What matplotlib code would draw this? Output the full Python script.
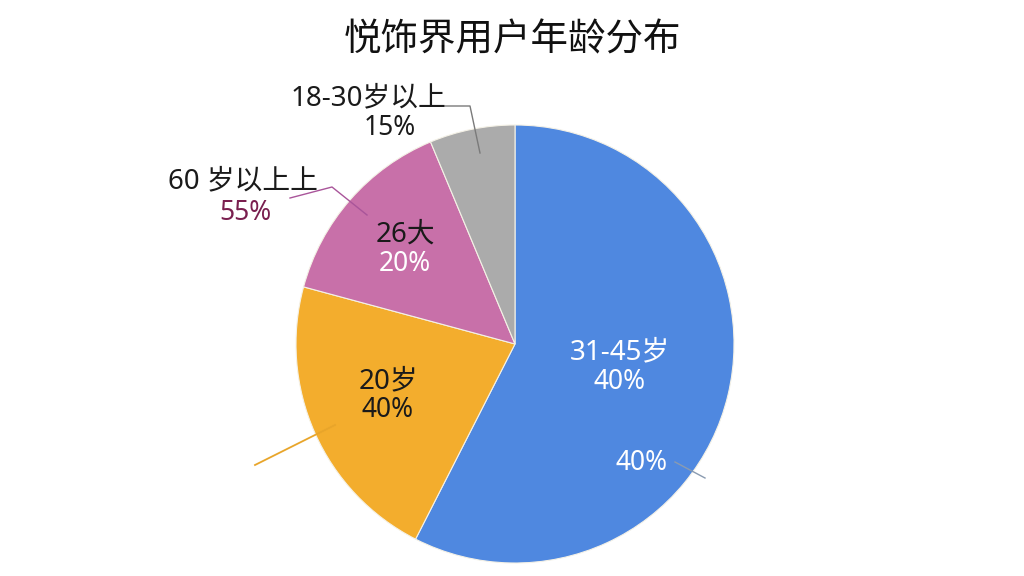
import matplotlib
matplotlib.use("Agg")
import matplotlib.pyplot as plt

plt.rcParams['font.family'] = ['Noto Sans', 'Noto Sans CJK SC', 'DejaVu Sans']

# Data (slice shares, clockwise from top)
categories = ["31-45岁", "20岁", "26岁", "18-30岁以上"]
shares = [57.5, 21.7, 14.5, 6.3]
colors = ["#4F88E0", "#F3AD2D", "#C870A9", "#ABABAB"]
title = "悦饰界用户年龄分布"

W, H = 1024, 576
CX, CY, R = 515, 344, 219

fig = plt.figure(figsize=(W / 100, H / 100), dpi=100)
fig.patch.set_facecolor("white")
ax = fig.add_axes([(CX - R) / W, (H - CY - R) / H, 2 * R / W, 2 * R / H])
ax.pie(shares, colors=colors, startangle=90, counterclock=False, radius=1,
       wedgeprops=dict(edgecolor="#F4F1E6", linewidth=0.8))
ax.set_xlim(-1, 1)
ax.set_ylim(-1, 1)
ax.set_aspect("equal")
ax.axis("off")


def P(px, py):
    return ((px - CX) / R, (CY - py) / R)


def txt(px, py, s, color, size=19):
    x, y = P(px, py)
    ax.text(x, y, s, color=color, fontsize=size, ha="center", va="center", clip_on=False)


def line(pts, color, lw=1.0):
    xs, ys = zip(*[P(a, b) for a, b in pts])
    ax.plot(xs, ys, color=color, lw=lw, clip_on=False)


fig.text(0.5, 1 - 40 / H, title, ha="center", va="center", fontsize=27, color="#111111")

# blue slice labels
txt(620, 352, categories[0], "white", 20)
txt(620, 382, "40%", "white")
txt(642, 463, "40%", "white")
line([(675, 462), (705, 478)], "#8A9BB0", 1.0)

# orange slice labels
txt(388, 381, categories[1], "#1A1A1A", 20)
txt(388, 410, "40%", "#1A1A1A")
line([(335, 425), (255, 465)], "#E8A52A", 1.3)

# pink slice labels
txt(405, 235, "26大", "#1A1A1A", 20)
txt(405, 264, "20%", "white")
txt(243, 181, "60 岁以上上", "#1A1A1A", 20)
txt(245, 213, "55%", "#7A1F4F")
line([(290, 198), (332, 187), (367, 215)], "#A9559A", 1.0)

# gray slice labels
txt(368, 98, categories[3], "#1A1A1A", 20)
txt(390, 128, "15%", "#1A1A1A")
line([(430, 106), (470, 106), (480, 153)], "#7A7A7A", 1.0)

fig.savefig("out.png", dpi=100, facecolor="white")
